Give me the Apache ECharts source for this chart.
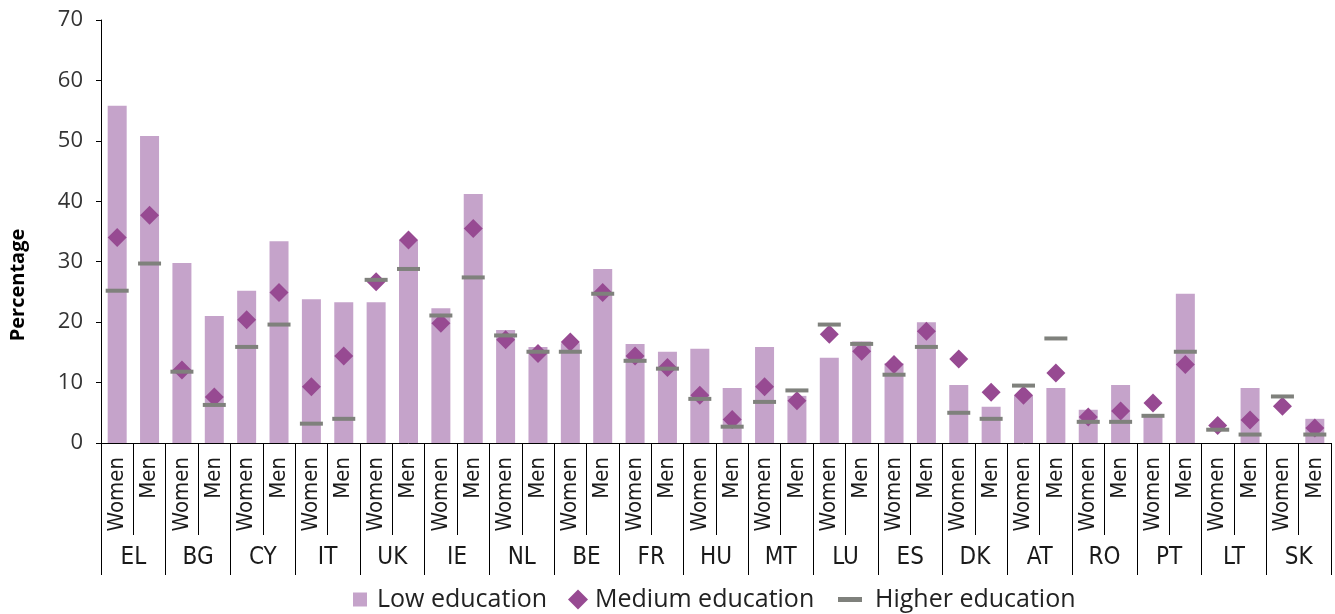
<!DOCTYPE html>
<html>
<head>
<meta charset="utf-8">
<title>Education chart</title>
<script src="https://cdn.jsdelivr.net/npm/echarts@6/dist/echarts.min.js"></script>
<style>
  html, body { margin: 0; padding: 0; background: #fff; }
  #chart { width: 1335px; height: 614px; }
</style>
</head>
<body>
<div id="chart"></div>
<script>
var countries = ['EL', 'BG', 'CY', 'IT', 'UK', 'IE', 'NL', 'BE', 'FR', 'HU', 'MT', 'LU', 'ES', 'DK', 'AT', 'RO', 'PT', 'LT', 'SK'];
var sexes = ['Women', 'Men'];

// values per country, women then men
var lowEdu = [55.8, 50.8, 29.8, 21.0, 25.2, 33.4, 23.8, 23.3, 23.3, 33.6, 22.3, 41.2, 18.7, 15.9, 16.5, 28.8, 16.4, 15.1, 15.6, 9.1,
              15.9, 7.8, 14.1, 16.8, 13.2, 20.0, 9.6, 6.0, 7.9, 9.1, 5.5, 9.6, 4.5, 24.7, null, 9.1, null, 4.0];
var mediumEdu = [34.0, 37.7, 12.1, 7.6, 20.4, 24.9, 9.3, 14.4, 26.7, 33.6, 19.8, 35.5, 17.1, 14.8, 16.7, 24.9, 14.4, 12.5, 7.9, 3.9,
                 9.3, 7.0, 18.0, 15.2, 13.0, 18.5, 13.9, 8.4, 7.9, 11.6, 4.3, 5.3, 6.6, 13.0, 2.9, 3.8, 6.1, 2.5];
var higherEdu = [25.2, 29.7, 11.8, 6.3, 15.9, 19.6, 3.2, 4.0, 27.0, 28.8, 21.1, 27.4, 17.8, 15.1, 15.1, 24.7, 13.6, 12.3, 7.3, 2.7,
                 6.8, 8.7, 19.6, 16.4, 11.3, 15.9, 5.0, 4.0, 9.5, 17.3, 3.5, 3.5, 4.5, 15.1, 2.2, 1.4, 7.7, 1.4];
var yTicks = [0, 10, 20, 30, 40, 50, 60, 70];

var subCats = [];
for (var i = 0; i < countries.length; i++) {
    subCats.push(sexes[0], sexes[1]);
}

var colLow = '#c5a3ca';
var colMed = '#974a92';
var colHigh = '#7f817c';
var narrow = '"Liberation Sans Narrow", "DejaVu Sans Condensed", sans-serif';
var sans = '"Open Sans", sans-serif';

var chart = echarts.init(document.getElementById('chart'));

var option = {
    backgroundColor: '#fff',
    animation: false,
    grid: { left: 101, right: 4, top: 20, bottom: 171 },
    legend: [
        {
            data: [{ name: 'Low education', icon: 'rect' }],
            selectedMode: false,
            left: 348, top: 582,
            itemWidth: 14, itemHeight: 14,
            textStyle: { fontFamily: sans, fontSize: 25, color: '#222', padding: [0, 0, 0, 5] }
        },
        {
            data: [{ name: 'Medium education', icon: 'diamond' }],
            selectedMode: false,
            left: 563, top: 582,
            itemWidth: 20, itemHeight: 20,
            textStyle: { fontFamily: sans, fontSize: 25, color: '#222', padding: [0, 0, 0, 2] }
        },
        {
            data: [{ name: 'Higher education', icon: 'rect' }],
            selectedMode: false,
            left: 833, top: 582,
            itemWidth: 24, itemHeight: 5,
            textStyle: { fontFamily: sans, fontSize: 25, color: '#222', padding: [0, 0, 0, 8] }
        }
    ],
    graphic: [{
        type: 'text',
        x: 18, y: 285,
        rotation: Math.PI / 2,
        style: {
            text: 'Percentage',
            font: 'bold 20px ' + sans,
            fill: '#000',
            textAlign: 'center',
            textVerticalAlign: 'middle'
        }
    }],
    xAxis: [
        {
            type: 'category',
            data: subCats,
            position: 'bottom',
            axisLine: { show: true, lineStyle: { color: '#000', width: 1 } },
            axisTick: { show: true, interval: 0, length: 92, lineStyle: { color: '#000' } },
            axisLabel: {
                interval: 0, rotate: 90, margin: 14,
                fontFamily: narrow, fontSize: 22, color: '#1a1a1a'
            }
        },
        {
            type: 'category',
            data: countries,
            position: 'bottom',
            axisLine: { show: false },
            axisTick: { show: true, interval: 0, length: 132, lineStyle: { color: '#000' } },
            axisLabel: {
                interval: 0, margin: 103,
                fontFamily: narrow, fontSize: 24, color: '#1a1a1a'
            }
        }
    ],
    yAxis: {
        type: 'value',
        min: yTicks[0],
        max: yTicks[yTicks.length - 1],
        interval: 10,
        splitLine: { show: false },
        axisLine: { show: true, lineStyle: { color: '#000' } },
        axisTick: { show: true, length: 5, lineStyle: { color: '#000' } },
        axisLabel: { margin: 18, fontFamily: sans, fontSize: 22, color: '#333' }
    },
    series: [
        {
            name: 'Low education',
            type: 'bar',
            xAxisIndex: 0,
            barWidth: 19,
            itemStyle: { color: colLow },
            data: lowEdu
        },
        {
            name: 'Medium education',
            type: 'scatter',
            xAxisIndex: 0,
            symbol: 'diamond',
            symbolSize: 19,
            itemStyle: { color: colMed, opacity: 1 },
            data: mediumEdu,
            z: 3
        },
        {
            name: 'Higher education',
            type: 'scatter',
            xAxisIndex: 0,
            symbol: 'rect',
            symbolSize: [23, 4],
            itemStyle: { color: colHigh, opacity: 1 },
            data: higherEdu,
            z: 4
        }
    ]
};

chart.setOption(option);
</script>
</body>
</html>
